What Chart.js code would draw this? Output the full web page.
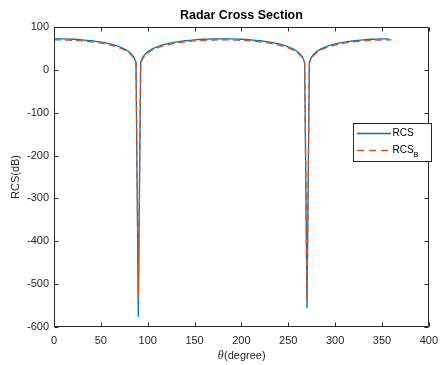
<!DOCTYPE html>
<html><head><meta charset="utf-8">
<script src="https://cdn.jsdelivr.net/npm/chart.js@4/dist/chart.umd.min.js"></script>
<style>html,body{margin:0;padding:0;background:#fff;}canvas{display:block;}</style>
</head><body>
<canvas id="c" width="445" height="365"></canvas>
<script>
// ---- data ----
const theta = [0,5,10,15,20,25,30,35,40,45,50,55,60,65,70,75,77.5,80,82.5,85,87.5,90,
  92.5,95,97.5,100,105,110,115,120,125,130,135,140,145,150,155,160,165,170,175,180,
  185,190,195,200,205,210,215,220,225,230,235,240,245,250,255,257.5,260,262.5,265,267.5,270,
  272.5,275,277.5,280,285,290,295,300,305,310,315,320,325,330,335,340,345,350,355,357.5,360];
const rcs = [72.5,72.4,72.2,71.9,71.4,70.8,70.0,69.0,67.9,66.5,64.8,62.8,60.5,57.5,53.9,49.0,45.9,42.1,37.1,30.1,18.1,-576,
  18.1,30.1,37.1,42.1,49.0,53.9,57.5,60.5,62.8,64.8,66.5,67.9,69.0,70.0,70.8,71.4,71.9,72.2,72.4,72.5,
  72.4,72.2,71.9,71.4,70.8,70.0,69.0,67.9,66.5,64.8,62.8,60.5,57.5,53.9,49.0,45.9,42.1,37.1,30.1,18.1,-556,
  18.1,30.1,37.1,42.1,49.0,53.9,57.5,60.5,62.8,64.8,66.5,67.9,69.0,70.0,70.8,71.4,71.9,72.2,72.4,72.5,null];
const rcsB = [70.0,69.9,69.7,69.4,68.9,68.3,67.5,66.5,65.4,64.0,62.3,60.3,58.0,55.0,51.4,46.5,43.4,39.6,34.6,27.6,15.6,-533,
  15.6,27.6,34.6,39.6,46.5,51.4,55.0,58.0,60.3,62.3,64.0,65.4,66.5,67.5,68.3,68.9,69.4,69.7,69.9,70.0,
  69.9,69.7,69.4,68.9,68.3,67.5,66.5,65.4,64.0,62.3,60.3,58.0,55.0,51.4,46.5,43.4,39.6,34.6,27.6,15.6,-538,
  15.6,27.6,34.6,39.6,46.5,51.4,55.0,58.0,60.3,62.3,64.0,65.4,66.5,67.5,68.3,68.9,69.4,69.7,69.9,70.0,70.0];
const xTicks = [0,50,100,150,200,250,300,350,400];
const yTicks = [-600,-500,-400,-300,-200,-100,0,100];
const seriesNames = [{main:'RCS', sub:''}, {main:'RCS', sub:'B'}];
const titleText = 'Radar Cross Section';
const xLabelSym = 'θ', xLabelRest = '(degree)';
const yLabelText = 'RCS(dB)';
const colors = ['#0072BD', '#D95319'];

const FONT = '"Liberation Sans", Arial, Helvetica, sans-serif';
const AX = '#262626';

function pts(ys) { return theta.map((t, i) => ({x: t, y: ys[i]})); }

const deco = {
  id: 'deco',
  afterDraw(chart) {
    const ctx = chart.ctx, a = chart.chartArea;
    const xs = chart.scales.x, ys = chart.scales.y;
    ctx.save();
    // box
    ctx.strokeStyle = AX; ctx.lineWidth = 1;
    const L = Math.round(a.left) + 0.5, R = Math.round(a.right) - 0.5;
    const T = Math.round(a.top) + 0.5, B = Math.round(a.bottom) - 0.5;
    ctx.beginPath();
    ctx.rect(L, T, R - L, B - T);
    // ticks inward
    const tl = 4;
    xTicks.forEach(v => {
      const px = Math.round(xs.getPixelForValue(v)) + 0.5;
      ctx.moveTo(px, B); ctx.lineTo(px, B - tl);
      ctx.moveTo(px, T); ctx.lineTo(px, T + tl);
    });
    yTicks.forEach(v => {
      const py = Math.round(ys.getPixelForValue(v)) + 0.5;
      ctx.moveTo(L, py); ctx.lineTo(L + tl, py);
      ctx.moveTo(R, py); ctx.lineTo(R - tl, py);
    });
    ctx.stroke();

    // title
    ctx.fillStyle = '#000';
    ctx.font = 'bold 12.5px ' + FONT;
    ctx.textAlign = 'center'; ctx.textBaseline = 'middle';
    ctx.fillText(titleText, (a.left + a.right) / 2, 15.5);

    // x label
    ctx.fillStyle = AX;
    const symFont = 'italic 12px "Liberation Serif", "Times New Roman", serif';
    const restFont = '11px ' + FONT;
    ctx.font = symFont; const w1 = ctx.measureText(xLabelSym).width;
    ctx.font = restFont; const w2 = ctx.measureText(xLabelRest).width;
    let x0 = (a.left + a.right) / 2 - (w1 + w2) / 2;
    ctx.textAlign = 'left';
    ctx.font = symFont; ctx.fillText(xLabelSym, x0, 356);
    ctx.font = restFont; ctx.fillText(xLabelRest, x0 + w1 + 0.5, 356);

    // y label
    ctx.save();
    ctx.translate(16, (a.top + a.bottom) / 2);
    ctx.rotate(-Math.PI / 2);
    ctx.textAlign = 'center';
    ctx.font = '11px ' + FONT;
    ctx.fillText(yLabelText, 0, 0);
    ctx.restore();

    // legend
    const lx = 353, ly = 123, lw = 79, lh = 39;
    ctx.fillStyle = '#fff';
    ctx.fillRect(lx, ly, lw, lh);
    ctx.strokeStyle = AX; ctx.lineWidth = 1;
    ctx.strokeRect(lx + 0.5, ly + 0.5, lw - 1, lh - 1);
    const rows = [133.5, 150.5];
    seriesNames.forEach((n, i) => {
      const y = rows[i];
      ctx.strokeStyle = colors[i];
      ctx.lineWidth = 1.3;
      ctx.setLineDash(i === 1 ? [7, 5] : []);
      ctx.beginPath(); ctx.moveTo(357, y); ctx.lineTo(391, y); ctx.stroke();
      ctx.setLineDash([]);
      ctx.fillStyle = '#000';
      ctx.textAlign = 'left'; ctx.textBaseline = 'middle';
      ctx.font = '10px ' + FONT;
      ctx.fillText(n.main, 392.5, y);
      if (n.sub) {
        const mw = ctx.measureText(n.main).width;
        ctx.font = '7.5px ' + FONT;
        ctx.fillText(n.sub, 392.5 + mw, y + 4);
      }
    });
    ctx.restore();
  }
};

new Chart(document.getElementById('c'), {
  type: 'scatter',
  data: {
    datasets: [
      { label: 'RCS', data: pts(rcs), showLine: true, borderColor: colors[0], backgroundColor: colors[0],
        borderWidth: 1.3, pointRadius: 0, spanGaps: false, order: 1 },
      { label: 'RCS_B', data: pts(rcsB), showLine: true, borderColor: colors[1], backgroundColor: colors[1],
        borderWidth: 1.3, borderDash: [7, 4], pointRadius: 0, order: 0 }
    ]
  },
  options: {
    responsive: false, animation: false, devicePixelRatio: 1,
    layout: { padding: { left: 0, right: 9, top: 27, bottom: 0 } },
    plugins: { legend: { display: false }, title: { display: false }, tooltip: { enabled: false } },
    scales: {
      x: {
        type: 'linear', min: 0, max: 400,
        afterBuildTicks: s => { s.ticks = xTicks.map(v => ({ value: v })); },
        afterFit: s => { s.height = 38; },
        grid: { display: false, drawTicks: false }, border: { display: false },
        ticks: { color: AX, font: { size: 11, family: FONT }, padding: 7, maxRotation: 0, autoSkip: false }
      },
      y: {
        type: 'linear', min: -600, max: 100,
        afterBuildTicks: s => { s.ticks = yTicks.map(v => ({ value: v })); },
        afterFit: s => { s.width = 54; },
        grid: { display: false, drawTicks: false }, border: { display: false },
        ticks: { color: AX, font: { size: 11, family: FONT }, padding: 5, autoSkip: false }
      }
    }
  },
  plugins: [deco]
});
</script>
</body></html>
